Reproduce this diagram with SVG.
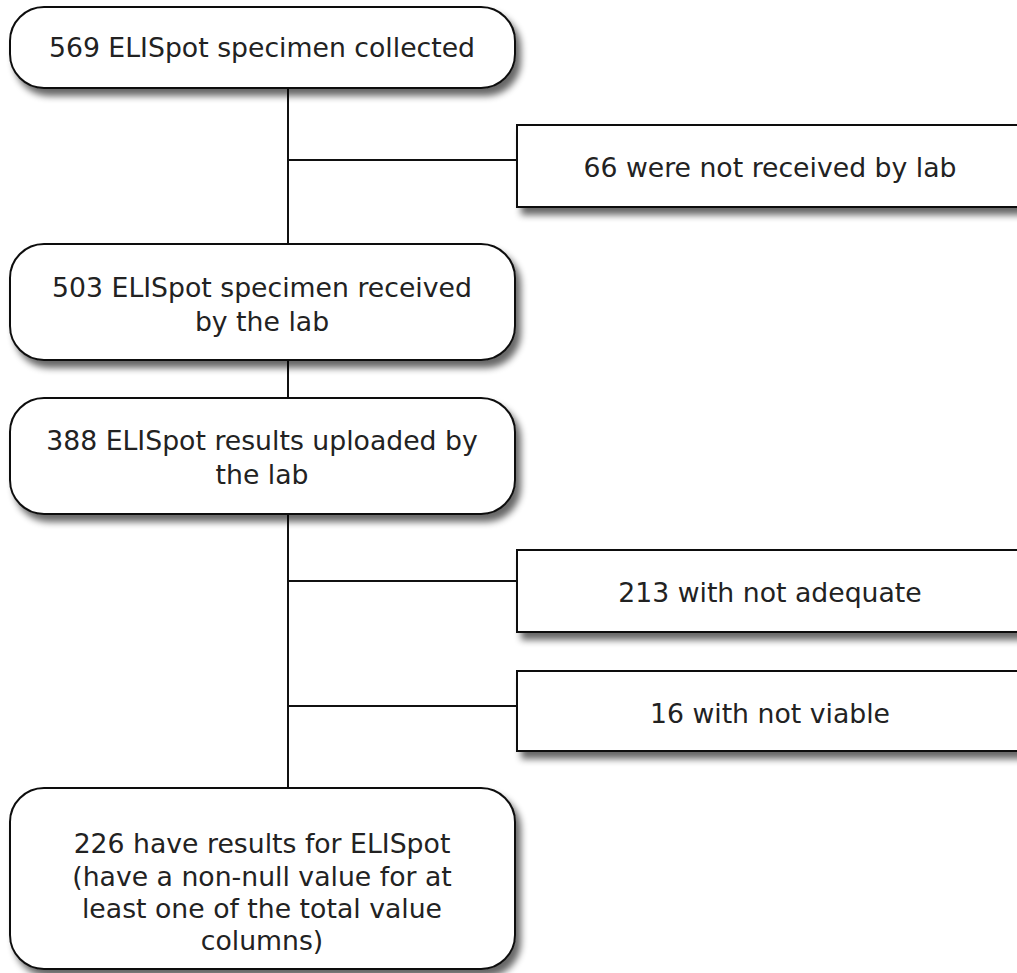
<svg xmlns="http://www.w3.org/2000/svg" width="1017" height="973" viewBox="0 0 1017 973">
<defs>
<filter id="sh" x="-10%" y="-10%" width="130%" height="140%">
<feGaussianBlur in="SourceAlpha" stdDeviation="3.5"/>
<feOffset dx="5" dy="7" result="b"/>
<feComponentTransfer><feFuncA type="linear" slope="0.6"/></feComponentTransfer>
<feMerge><feMergeNode/><feMergeNode in="SourceGraphic"/></feMerge>
</filter>
</defs>
<style>
.box{fill:#fff;stroke:#111;stroke-width:2;filter:url(#sh)}
.t{font-family:"DejaVu Sans",Verdana,sans-serif;font-size:26.7px;fill:#222;text-anchor:middle;dominant-baseline:central}
.c{stroke:#111;stroke-width:2;fill:none}
</style>
<rect width="1017" height="973" fill="#fff"/>
<g id="connectors">
<line class="c" x1="288" y1="88" x2="288" y2="244"/>
<line class="c" x1="288" y1="160" x2="517" y2="160"/>
<line class="c" x1="288" y1="360" x2="288" y2="398"/>
<line class="c" x1="288" y1="514" x2="288" y2="788"/>
<line class="c" x1="288" y1="581" x2="517" y2="581"/>
<line class="c" x1="288" y1="706" x2="517" y2="706"/>
</g>
<g id="n1"><rect class="box" x="10" y="7" width="505" height="81" rx="34"/><text class="t" x="262" y="47">569 ELISpot specimen collected</text></g>
<g id="n2"><rect class="box" x="517" y="125" width="510" height="82"/><text class="t" x="770" y="167">66 were not received by lab</text></g>
<g id="n3"><rect class="box" x="10" y="244" width="505" height="116" rx="34"/><text class="t" x="262" y="287">503 ELISpot specimen received</text><text class="t" x="262" y="321">by the lab</text></g>
<g id="n4"><rect class="box" x="10" y="398" width="505" height="116" rx="34"/><text class="t" x="262" y="440">388 ELISpot results uploaded by</text><text class="t" x="262" y="474">the lab</text></g>
<g id="n5"><rect class="box" x="517" y="550" width="510" height="82"/><text class="t" x="770" y="592">213 with not adequate</text></g>
<g id="n6"><rect class="box" x="517" y="671" width="510" height="80"/><text class="t" x="770" y="713">16 with not viable</text></g>
<g id="n7"><rect class="box" x="10" y="788" width="505" height="181" rx="34"/><text class="t" x="262" y="843">226 have results for ELISpot</text><text class="t" x="262" y="876">(have a non-null value for at</text><text class="t" x="262" y="908">least one of the total value</text><text class="t" x="262" y="940">columns)</text></g>
</svg>
